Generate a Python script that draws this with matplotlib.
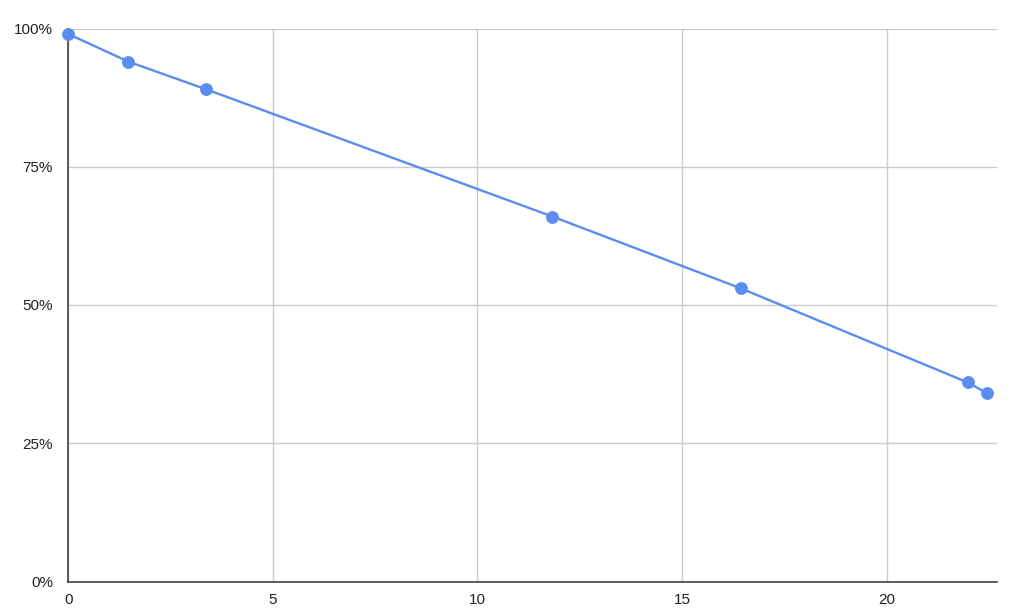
import matplotlib
matplotlib.use("Agg")
import matplotlib.pyplot as plt
from matplotlib.ticker import FuncFormatter

x_values = [0, 1.47, 3.37, 11.83, 16.44, 21.98, 22.46]
y_values = [99, 94, 89, 66, 53, 36, 34]
x_ticks = [0, 5, 10, 15, 20]
y_ticks = [0, 25, 50, 75, 100]

plt.rcParams['font.family'] = ['Liberation Sans', 'DejaVu Sans']

fig = plt.figure(figsize=(10.24, 6.13), dpi=100)
ax = fig.add_axes([68.3/1024, 1 - 581.5/613, (996.7-68.3)/1024, (581.5-28.5)/613])

color = '#5b8def'
ax.plot(x_values, y_values, color=color, lw=1.7, marker='o', markersize=8.2,
        zorder=3, clip_on=False)

ax.set_xlim(0, 22.69)
ax.set_ylim(0, 100)
ax.set_xticks(x_ticks)
ax.set_yticks(y_ticks)
ax.yaxis.set_major_formatter(FuncFormatter(lambda v, p: f"{int(v)}%"))
ax.grid(True, color='#cccccc', lw=1)
ax.set_axisbelow(True)
for s in ['top', 'right']:
    ax.spines[s].set_visible(False)
for s in ['left', 'bottom']:
    ax.spines[s].set_color('#333333')
    ax.spines[s].set_linewidth(1.1)
    ax.spines[s].set_zorder(2.5)
ax.tick_params(axis='both', length=0, labelsize=11, colors='#222222')
ax.tick_params(axis='y', pad=11)
ax.tick_params(axis='x', pad=8)

fig.savefig('out.png', dpi=100, facecolor='white')
